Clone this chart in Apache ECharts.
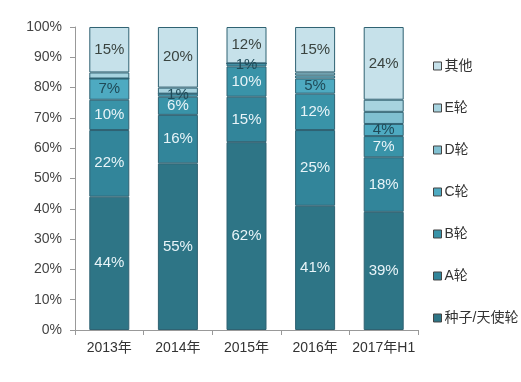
<!DOCTYPE html>
<html>
<head>
<meta charset="utf-8">
<script src="https://cdn.jsdelivr.net/npm/echarts@6/dist/echarts.min.js"></script>
<style>html,body{margin:0;padding:0;background:#fff;}#c{width:521px;height:382px;}</style>
</head>
<body>
<div id="c"></div>
<script>
var categories = ['2013年', '2014年', '2015年', '2016年', '2017年H1'];
var seedAngel = [44, 55, 62, 41, 39];
var roundA = [22, 16, 15, 25, 18];
var roundB = [10, 6, 10, 12, 7];
var roundC = [7, 1, 1, 5, 4];
var roundD = [0, 0, 0, 1, 4];
var roundE = [2, 2, 0, 1, 4];
var others = [15, 20, 12, 15, 24];
var yTicks = [0, 10, 20, 30, 40, 50, 60, 70, 80, 90, 100];

var FONT = 'Liberation Sans, Arial, Noto Sans CJK SC, sans-serif';
var seriesDefs = [
  {name: '种子/天使轮', data: seedAngel, color: '#2e7586', label: true, lc: '#e8f4f8'},
  {name: 'A轮', data: roundA, color: '#32859a', label: true, lc: '#e8f4f8'},
  {name: 'B轮', data: roundB, color: '#3993a8', label: true, lc: '#e8f4f8'},
  {name: 'C轮', data: roundC, color: '#4eaac1', label: true, lc: '#1f4a58'},
  {name: 'D轮', data: roundD, color: '#80c0d1', label: false, lc: '#333'},
  {name: 'E轮', data: roundE, color: '#a7d3df', label: false, lc: '#333'},
  {name: '其他', data: others, color: '#c6e1ea', label: true, lc: '#3a4440'}
];

var series = seriesDefs.map(function (s) {
  return {
    name: s.name,
    type: 'bar',
    stack: 'total',
    barWidth: 40,
    data: s.data,
    itemStyle: {color: s.color, borderColor: '#2f6272', borderWidth: 1},
    label: {
      show: s.label,
      position: 'inside',
      color: s.lc,
      fontSize: 15,
      fontFamily: FONT,
      formatter: function (p) { return p.value > 0 ? p.value + '%' : ''; }
    },
    emphasis: {disabled: true}
  };
});

var chart = echarts.init(document.getElementById('c'), null, {renderer: 'canvas'});
chart.setOption({
  backgroundColor: '#ffffff',
  animation: false,
  grid: {left: 75, right: 103, top: 27, bottom: 52, containLabel: false},
  legend: {
    orient: 'vertical',
    left: 428,
    top: 54,
    itemWidth: 8,
    itemHeight: 8,
    itemGap: 28,
    icon: 'rect',
    data: ['其他', 'E轮', 'D轮', 'C轮', 'B轮', 'A轮', '种子/天使轮'],
    textStyle: {fontSize: 14, color: '#333', fontFamily: FONT, padding: [0, 0, 0, -2]},
    itemStyle: {borderColor: '#444', borderWidth: 1}
  },
  xAxis: {
    type: 'category',
    data: categories,
    axisLine: {lineStyle: {color: '#999'}},
    axisTick: {show: true, length: 5, alignWithLabel: false, interval: 0, lineStyle: {color: '#999'}},
    axisLabel: {color: '#333', fontSize: 14, fontFamily: FONT, margin: 11, interval: 0}
  },
  yAxis: {
    type: 'value',
    min: yTicks[0],
    max: yTicks[yTicks.length - 1],
    interval: 10,
    axisLine: {show: true, lineStyle: {color: '#999'}},
    axisTick: {show: true, length: 5, lineStyle: {color: '#999'}},
    splitLine: {show: false},
    axisLabel: {color: '#444', fontSize: 14, fontFamily: FONT, margin: 13, formatter: '{value}%'}
  },
  series: series
});
</script>
</body>
</html>
